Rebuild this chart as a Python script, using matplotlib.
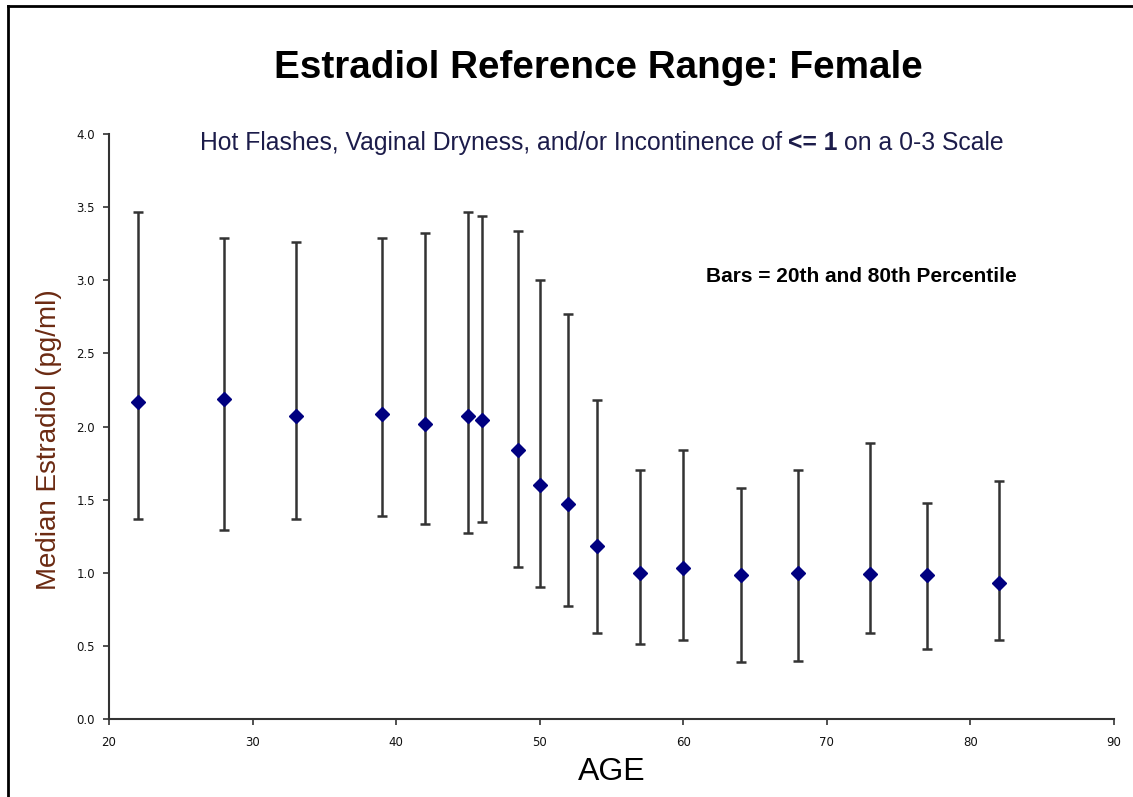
import matplotlib
matplotlib.use("Agg")
import matplotlib.pyplot as plt
from matplotlib.lines import Line2D

# Data
ages = [22, 28, 33, 39, 42, 45, 46, 48.5, 50, 52, 54, 57, 60, 64, 68, 73, 77, 82]
median = [2.17, 2.19, 2.07, 2.085, 2.02, 2.07, 2.045, 1.84, 1.60, 1.47, 1.18,
          1.00, 1.035, 0.985, 0.995, 0.99, 0.985, 0.93]
p80 = [3.47, 3.29, 3.26, 3.29, 3.32, 3.465, 3.44, 3.34, 3.00, 2.77, 2.18,
       1.70, 1.84, 1.58, 1.70, 1.89, 1.48, 1.63]
p20 = [1.37, 1.29, 1.37, 1.385, 1.33, 1.275, 1.345, 1.04, 0.905, 0.77, 0.59,
       0.51, 0.54, 0.39, 0.40, 0.59, 0.48, 0.54]
x_ticks = [20, 30, 40, 50, 60, 70, 80, 90]
y_ticks = [0.0, 0.5, 1.0, 1.5, 2.0, 2.5, 3.0, 3.5, 4.0]

plt.rcParams['font.family'] = ['Liberation Sans', 'DejaVu Sans']

W, H = 1133, 797
fig = plt.figure(figsize=(W / 100, H / 100), dpi=100)
ax = fig.add_axes([109 / W, 1 - 719 / H, (1114 - 109) / W, (719 - 134) / H])

lower_err = [m - l for m, l in zip(median, p20)]
upper_err = [u - m for m, u in zip(median, p80)]
ax.errorbar(ages, median, yerr=[lower_err, upper_err], fmt='none',
            ecolor='#333333', elinewidth=1.8, capsize=3.6, capthick=1.8, zorder=2)
ax.plot(ages, median, linestyle='none', marker='D', markersize=7.5,
        color='#000080', zorder=3)

ax.set_xlim(20, 90)
ax.set_ylim(0, 4.0)
ax.set_xticks(x_ticks)
ax.set_yticks(y_ticks)
ax.set_xticklabels([str(v) for v in x_ticks])
ax.set_yticklabels([f"{v:.1f}" for v in y_ticks])
for s in ['top', 'right']:
    ax.spines[s].set_visible(False)
for s in ['left', 'bottom']:
    ax.spines[s].set_color('#333333')
    ax.spines[s].set_linewidth(1.5)
ax.tick_params(axis='both', direction='out', length=4, width=1.2, color='#333333',
               labelsize=8.5, labelcolor='#111111')
ax.tick_params(axis='x', pad=8)
ax.tick_params(axis='y', pad=6)
for lab in ax.get_xticklabels() + ax.get_yticklabels():
    lab.set_family('DejaVu Sans')

ax.set_xlabel('AGE', fontsize=23, labelpad=6, color='black')
ax.set_ylabel('Median Estradiol (pg/ml)', fontsize=20, color='#6B2A12')
ax.yaxis.set_label_coords(-0.047, 0.477)

fig.text(598 / W, 1 - 68 / H, 'Estradiol Reference Range: Female', ha='center',
         va='center', fontsize=27.8, fontweight='bold', color='black')

sub_color = '#1c1c4a'
sub_size = 17.8
t1 = fig.text(200 / W, 1 - 150 / H,
              'Hot Flashes, Vaginal Dryness, and/or Incontinence of',
              ha='left', va='baseline', fontsize=sub_size, color=sub_color)
t2 = fig.text(0, 0, '<= 1', ha='left', va='baseline', fontsize=sub_size,
              fontweight='bold', color=sub_color)
t3 = fig.text(0, 0, 'on a 0-3 Scale', ha='left', va='baseline', fontsize=sub_size,
              color=sub_color)

fig.canvas.draw()
r = fig.canvas.get_renderer()
gap = 6
bb1 = t1.get_window_extent(r)
t2.set_position(((bb1.x1 + gap) / W, 1 - 150 / H))
bb2 = t2.get_window_extent(r)
t3.set_position(((bb2.x1 + gap) / W, 1 - 150 / H))

fig.text(861 / W, 1 - 276 / H, 'Bars = 20th and 80th Percentile', ha='center',
         va='center', fontsize=15, fontweight='bold', color='black')

# figure border (left and top visible)
fig.add_artist(Line2D([7.5 / W, 7.5 / W], [0, 1 - 6 / H], transform=fig.transFigure,
                      color='black', linewidth=2))
fig.add_artist(Line2D([7.5 / W, 1], [1 - 6 / H, 1 - 6 / H], transform=fig.transFigure,
                      color='black', linewidth=2))

fig.savefig('out.png', dpi=100, facecolor='white')
